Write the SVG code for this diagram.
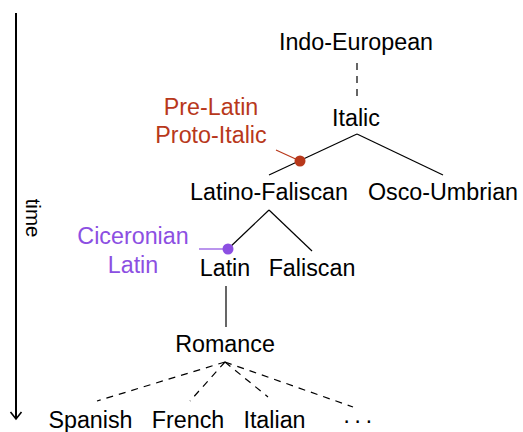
<svg xmlns="http://www.w3.org/2000/svg" width="523" height="432" viewBox="0 0 523 432">
<style>
text{font-family:"Liberation Sans",Arial,sans-serif;font-size:23.3px;fill:#000;text-anchor:middle}
.red{fill:#b8381b}
.pur{fill:#8c4fe2}
.t{stroke:#000;stroke-width:1.2;fill:none}
.d{stroke:#000;stroke-width:1.2;fill:none;stroke-dasharray:7 6}
</style>
<rect width="523" height="432" fill="#fff"/>
<g id="time-axis">
<line x1="16" y1="13" x2="16" y2="419" stroke="#000" stroke-width="2"/>
<polyline points="10.5,412 16,419 21.5,412" fill="none" stroke="#000" stroke-width="1.6"/>
<text transform="translate(26,218) rotate(90)" style="font-size:20.5px">time</text>
</g>
<g id="connectors">
<line class="d" x1="357" y1="63" x2="357" y2="100"/>
<line class="t" x1="357" y1="134" x2="269" y2="175"/>
<line class="t" x1="357" y1="134" x2="443" y2="175"/>
<line class="t" x1="269" y1="210" x2="228" y2="249"/>
<line class="t" x1="269" y1="210" x2="312" y2="251"/>
<line class="t" x1="226" y1="286" x2="226" y2="327"/>
<line class="d" x1="225" y1="362" x2="97" y2="401"/>
<line class="d" x1="225" y1="362" x2="190" y2="401"/>
<line class="d" x1="225" y1="362" x2="268" y2="397"/>
<line class="d" x1="225" y1="362" x2="353" y2="407"/>
<line x1="276" y1="150" x2="300" y2="161" stroke="#b8381b" stroke-width="1.2"/>
<line x1="199" y1="249" x2="228" y2="249" stroke="#8c4fe2" stroke-width="1.2"/>
</g>
<g id="indo-european"><text x="356" y="50">Indo-European</text></g>
<g id="italic"><text x="356" y="126">Italic</text></g>
<g id="latino-faliscan"><text x="269" y="200">Latino-Faliscan</text></g>
<g id="osco-umbrian"><text x="443" y="200">Osco-Umbrian</text></g>
<g id="latin"><text x="225" y="276">Latin</text></g>
<g id="faliscan"><text x="312" y="276">Faliscan</text></g>
<g id="romance"><text x="225" y="352">Romance</text></g>
<g id="spanish"><text x="90.5" y="428">Spanish</text></g>
<g id="french"><text x="188" y="428">French</text></g>
<g id="italian"><text x="274.5" y="428">Italian</text></g>
<g id="more"><text x="357" y="428" style="letter-spacing:-1.5px">· · ·</text></g>
<g id="pre-latin">
<circle cx="300" cy="161" r="5.5" fill="#b8381b"/>
<text class="red" x="211" y="115">Pre-Latin</text>
<text class="red" x="211" y="143">Proto-Italic</text>
</g>
<g id="ciceronian-latin">
<circle cx="228" cy="249" r="5.5" fill="#8c4fe2"/>
<text class="pur" x="133" y="244">Ciceronian</text>
<text class="pur" x="133" y="273">Latin</text>
</g>
</svg>
